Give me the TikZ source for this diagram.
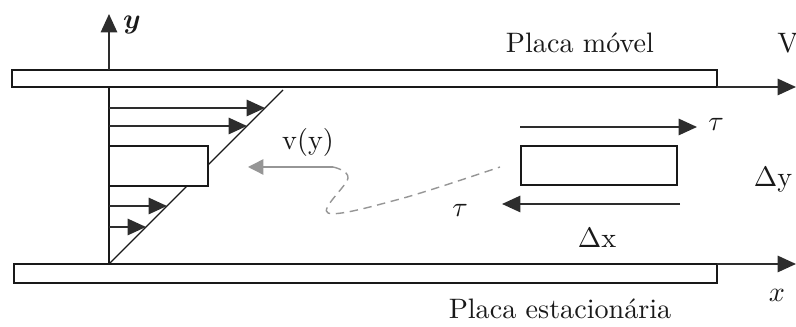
\documentclass[tikz,border=0pt]{standalone}
\usepackage{amsmath}
\usepackage{tikz}
\usetikzlibrary{arrows.meta,calc}
\usepackage{xcolor}
\definecolor{linhaclr}{RGB}{25,25,25}
\definecolor{setaclr}{RGB}{45,45,45}
\definecolor{cinzaclr}{RGB}{150,150,150}
\tikzset{
  % placas
  placa/.style     = {draw=linhaclr, line width=0.75pt, fill=white},
  % setas cheias
  seta/.style      = {-{Triangle[length=6.5pt,width=5.8pt]}, line width=0.6pt, draw=linhaclr, setaclr},
  setacinza/.style = {-{Triangle[length=5.5pt,width=5.5pt]}, line width=0.5pt, cinzaclr},
  % linhas finas
  fina/.style      = {line width=0.45pt, draw=linhaclr},
  % etiquetas
  lab/.style       = {font=\normalsize, inner sep=1pt, text=linhaclr},
}
\begin{document}
\begin{tikzpicture}[x=0.0125cm,y=-0.0125cm]
  \useasboundingbox (0,0) rectangle (796,327);
  % pontos
  \coordinate (O) at (109,264);
  \coordinate (Ytop) at (109,14);
  \coordinate (Yb) at (109,70);
  \coordinate (Yp) at (109,87);
  \coordinate (Vb) at (717,87);
  \coordinate (Ve) at (796,87);
  \coordinate (Xb) at (717,264);
  \coordinate (Xe) at (796,264);
  \coordinate (D) at (283,90);
  % placas
  \draw[placa] (12,70) rectangle (717,87);
  \draw[placa] (14,264) rectangle (717,283);
  % eixos e velocidade
  \draw[seta] (Yb) -- (Ytop);
  \draw[seta] (Vb) -- (Ve);
  \draw[seta] (Xb) -- (Xe);
  \draw[line width=0.65pt, linhaclr] (Yp) -- (O);
  % perfil de velocidade
  \draw[fina] (O) -- (D);
  \foreach \yy in {108,126,206,227}
    \draw[seta] (109,\yy) -- ($(109,\yy)+(264-\yy,0)$);
  \draw[placa, line width=0.65pt] (109,146) rectangle (208,186);
  % elemento de fluido
  \draw[placa, line width=0.65pt] (521,146) rectangle (677,185);
  \coordinate (Ta) at (520,127);
  \coordinate (Tb) at (697,127);
  \coordinate (Tc) at (680,204);
  \coordinate (Td) at (502,204);
  \draw[seta] (Ta) -- (Tb);
  \draw[seta] (Tc) -- (Td);
  % v(y)
  \coordinate (Va) at (333,167);
  \coordinate (Vt) at (248,167);
  \draw[setacinza] (Va) -- (Vt);
  \draw[cinzaclr, line width=0.5pt, densely dashed] plot[smooth, tension=0.6]
    coordinates {(Va) (348,178) (328,213) (400,199) (500,167)};
  % etiquetas
  \node[lab] (ly) at (132,25) {$\boldsymbol{y}$};
  \node[lab] (lmov) at (580,43) {Placa móvel};
  \node[lab] (lV) at (788,43) {V};
  \node[lab] (lvy) at (308,142) {v(y)};
  \node[lab] (ltau1) at (716,124) {$\tau$};
  \node[lab] (ltau2) at (460,210) {$\tau$};
  \node[lab] (ldy) at (773,180) {$\Delta$y};
  \node[lab] (ldx) at (597,238) {$\Delta$x};
  \node[lab] (lx) at (777,295) {$x$};
  \node[lab, anchor=base] (lest) at (560,319) {Placa estacionária};
\end{tikzpicture}
\end{document}
